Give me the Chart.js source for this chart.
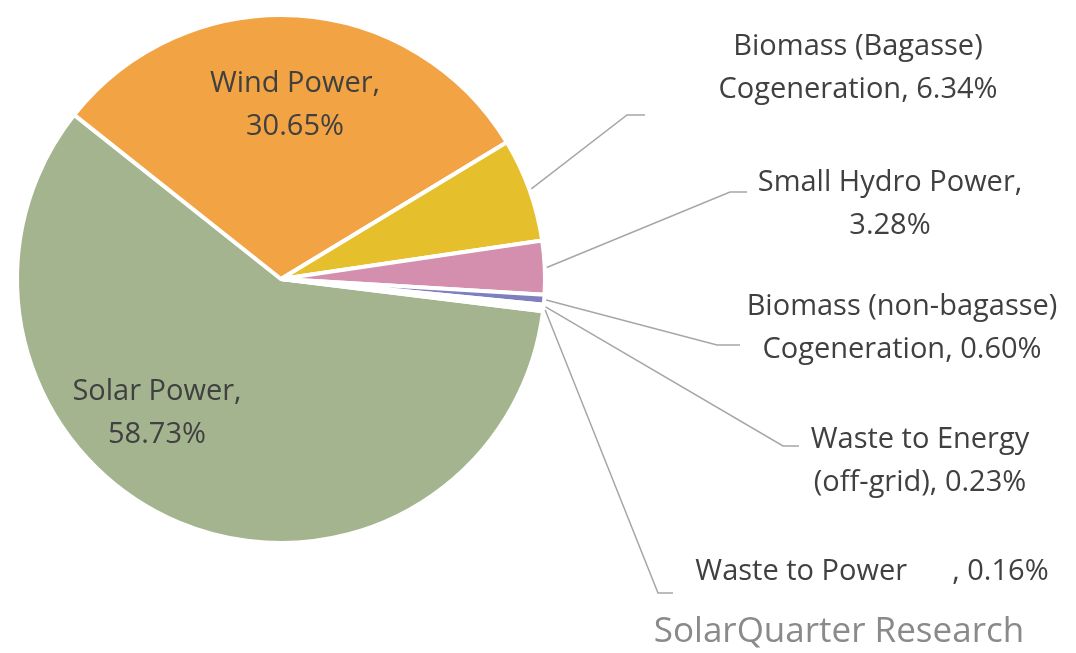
<!DOCTYPE html>
<html>
<head>
<meta charset="utf-8">
<script src="https://cdn.jsdelivr.net/npm/chart.js@4.4.0/dist/chart.umd.min.js"></script>
<style>
html,body{margin:0;padding:0;background:#fff;}
#wrap{position:relative;width:1076px;height:653px;}
</style>
</head>
<body>
<div id="wrap"><canvas id="pie" width="1076" height="653"></canvas></div>
<script>
// Data
const categories = ['Solar Power','Wind Power','Biomass (Bagasse) Cogeneration','Small Hydro Power','Biomass (non-bagasse) Cogeneration','Waste to Energy (off-grid)','Waste to Power'];
const shares = [58.73, 30.65, 6.34, 3.28, 0.60, 0.23, 0.16];
const sliceColors = ['#a4b48f','#f2a444','#e6bf2c','#d48fae','#7f7fbf','#9bb3d6','#c9c9c9'];

// label lines and where to put them (text lines, text anchor, elbow)
const labelLines = [
    ['Solar Power,','58.73%'],
    ['Wind Power,','30.65%'],
    ['Biomass (Bagasse)','Cogeneration, 6.34%'],
    ['Small Hydro Power,','3.28%'],
    ['Biomass (non-bagasse)','Cogeneration, 0.60%'],
    ['Waste to Energy','(off-grid), 0.23%'],
    ['Waste to Power      , 0.16%']
];
const labelPos = [[157,392],[295,84],[858,47],[890,183],[902,307],[920,440],[872,572]];
const elbows = [null,null,[627,115,645],[730,192,747],[717,345,740],[783,446,799],[658,593,673]];

const labelPlugin = {
    id:'labels',
    afterDatasetsDraw(chart){
        const ctx = chart.ctx;
        const arcs = chart.getDatasetMeta(0).data;
        ctx.save();
        ctx.font = '29px "Open Sans", sans-serif';
        ctx.fillStyle = '#404040';
        ctx.textAlign = 'center';
        ctx.textBaseline = 'middle';
        arcs.forEach((arc,i)=>{
            const e = elbows[i];
            if(e){
                const mid = (arc.startAngle+arc.endAngle)/2;
                const r = arc.outerRadius + 2;
                const sx = arc.x + Math.cos(mid)*r, sy = arc.y + Math.sin(mid)*r;
                ctx.strokeStyle = '#a6a6a6';
                ctx.lineWidth = 1.5;
                ctx.beginPath();
                ctx.moveTo(sx,sy);
                ctx.lineTo(e[0],e[1]);
                ctx.lineTo(e[2],e[1]);
                ctx.stroke();
            }
            const p = labelPos[i];
            labelLines[i].forEach((t,k)=>ctx.fillText(t,p[0],p[1]+k*43));
        });
        ctx.font = '35px "Open Sans", sans-serif';
        ctx.fillStyle = '#8a8a8a';
        ctx.fillText('SolarQuarter Research',839,632);
        ctx.restore();
    }
};

new Chart(document.getElementById('pie').getContext('2d'),{
    type:'pie',
    data:{labels:categories,datasets:[{data:shares,backgroundColor:sliceColors,borderColor:'#ffffff',borderWidth:4}]},
    options:{
        responsive:false,animation:false,rotation:97,
        layout:{padding:{left:15,top:13,right:529,bottom:108}},
        plugins:{legend:{display:false},tooltip:{enabled:false}}
    },
    plugins:[labelPlugin]
});
</script>
</body>
</html>
